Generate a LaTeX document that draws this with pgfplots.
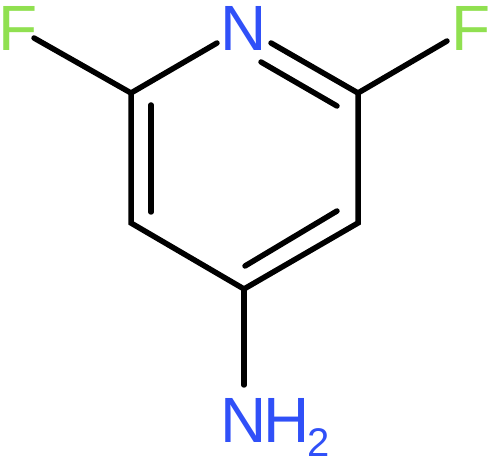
\documentclass[border=0pt]{standalone}
\usepackage{pgfplots}
\pgfplotsset{compat=1.18}
\usepackage{fontspec}
\setmainfont{Liberation Sans}
\definecolor{fluor}{RGB}{144,224,80}
\definecolor{nitro}{RGB}{48,80,248}
\tikzset{
  bond/.style={black, line width=5.5pt, line cap=round, line join=miter},
  atom/.style={overlay, inner sep=0pt, anchor=base west, font=\fontsize{64}{64}\selectfont}}
\begin{document}
\begin{tikzpicture}
 \begin{axis}[
  scale only axis,
  width=488pt,
  height=462pt,
  xmin=0, xmax=488,
  ymin=0, ymax=462,
  y dir=reverse,
  hide axis,
  clip=false]
   % hidden axis adds nothing to the bounding box, so keep the full frame
   \path (axis cs:0,0) rectangle (axis cs:488,462);
   % ring, left side and F bond
   \addplot[bond, no markers] coordinates {(34,38) (131,93) (217,43)};
   \addplot[bond, no markers] coordinates {(131,93) (131,223) (244,289) (358,223) (358,93)};
   % N=C double bond and right F bond
   \addplot[bond, no markers] coordinates {(271,43) (358,93) (447,41)};
   \addplot[bond, no markers] coordinates {(261,62) (337,106)};
   % inner lines of the other double bonds
   \addplot[bond, no markers] coordinates {(151,105) (151,212)};
   \addplot[bond, no markers] coordinates {(245,266) (337,211)};
   % amine bond
   \addplot[bond, no markers] coordinates {(244,289) (244,385)};
   \node[atom, text=fluor] at (axis cs:-2,51) {F};
   \node[atom, text=fluor] at (axis cs:451,51) {F};
   \node[atom, text=nitro] at (axis cs:220,51) {N};
   \node[atom, text=nitro] at (axis cs:220,443) {N};
   \node[atom, text=nitro] at (axis cs:263,443) {H};
   \node[atom, text=nitro, font=\fontsize{40}{40}\selectfont] at (axis cs:307,457) {2};
 \end{axis}
\end{tikzpicture}
\end{document}
